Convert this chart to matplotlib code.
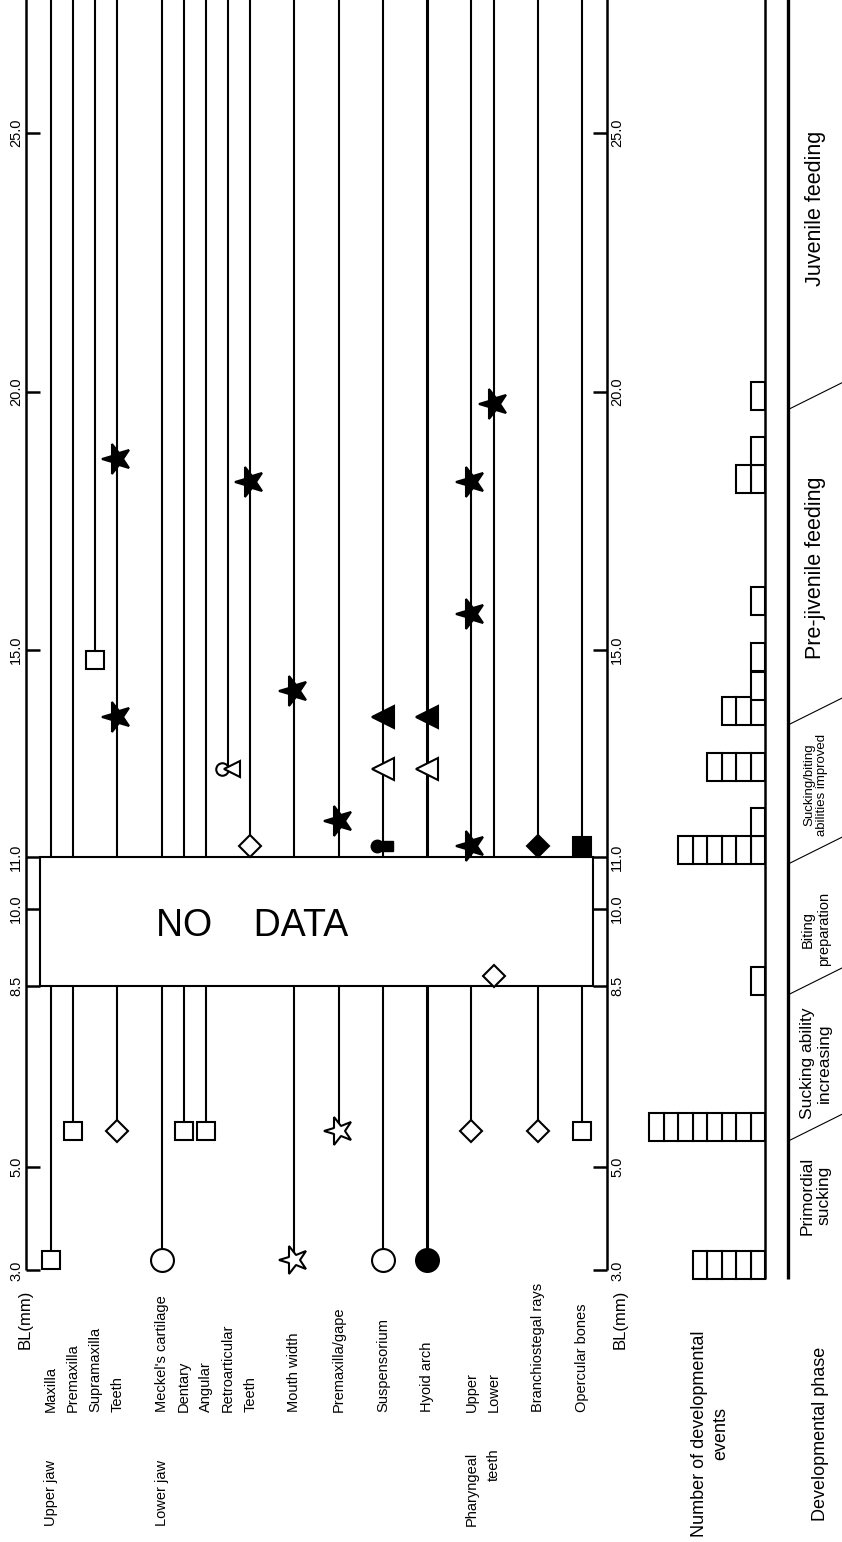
import matplotlib
matplotlib.use('Agg')
import matplotlib.pyplot as plt
from matplotlib.markers import MarkerStyle
from matplotlib.transforms import Affine2D, ScaledTranslation
from matplotlib.patches import Rectangle

plt.rcParams['font.family'] = ['Liberation Sans', 'DejaVu Sans']

# ---- data ----
bl_ticks = [3.0, 5.0, 8.5, 10.0, 11.0, 15.0, 20.0, 25.0]
tick_labels = ['3.0', '5.0', '8.5', '10.0', '11.0', '15.0', '20.0', '25.0']

items = ['Maxilla', 'Premaxilla', 'Supramaxilla', 'Teeth',
         "Meckel's cartilage", 'Dentary', 'Angular', 'Retroarticular', 'Teeth',
         'Mouth width', 'Premaxilla/gape', 'Suspensorium', 'Hyoid arch',
         'Upper', 'Lower', 'Branchiostegal rays', 'Opercular bones']
item_slot = [1, 2, 3, 4, 6, 7, 8, 9, 10, 12, 14, 16, 18, 20, 21, 23, 25]
first_bl = [3.2, 5.7, 14.8, 5.7, 3.2, 5.7, 5.7, 12.7, 11.2, 3.2, 5.7,
            3.2, 3.2, 5.7, 8.7, 5.7, 5.7]

groups = ['Upper jaw', 'Lower jaw', 'Pharyngeal']
group_slot = [1, 6, 20]

# developmental events: column, body length (mm), symbol
ev_slot = [1, 2, 3, 4, 4, 4, 6, 7, 8, 9, 10, 10, 12, 12, 14, 14,
           16, 16, 16, 16, 18, 18, 18, 20, 20, 20, 20, 21, 21, 23, 23, 25, 25]
ev_bl = [3.2, 5.7, 14.8, 5.7, 13.7, 18.7, 3.2, 5.7, 5.7, 12.7, 11.2, 18.25,
         3.2, 14.2, 5.7, 11.7, 3.2, 11.2, 12.7, 13.7, 3.2, 12.7, 13.7,
         5.7, 11.2, 15.7, 18.25, 8.7, 19.75, 5.7, 11.2, 5.7, 11.2]
ev_sym = ['sq_o', 'sq_o', 'sq_o', 'di_o', 'st_f', 'st_f', 'ci_o', 'sq_o', 'sq_o',
          'retro', 'di_o', 'st_f', 'st_o', 'st_f', 'st_o', 'st_f',
          'ci_o', 'dotsq', 'tr_o', 'tr_f', 'ci_f', 'tr_o', 'tr_f',
          'di_o', 'st_f', 'st_f', 'st_f', 'di_o', 'st_f', 'di_o', 'di_f', 'sq_o', 'sq_f']

# number of developmental events per body-length class
hist_bl = [3.1, 5.77, 8.6, 11.13, 11.67, 12.74, 13.82, 14.3, 14.86, 15.95, 18.3, 18.85, 19.92]
hist_n = [5, 8, 1, 6, 1, 4, 3, 1, 1, 1, 2, 1, 1]

phases = ['Primordial\nsucking', 'Sucking ability\nincreasing', 'Biting\npreparation',
          'Sucking/biting\nabilities improved', 'Pre-jivenile feeding', 'Juvenile feeding']
phase_mid = [4.45, 7.0, 9.6, 12.4, 16.6, 23.55]
phase_size = [12.5, 12.5, 10.5, 9.5, 15.5, 15.5]
phase_edges = [5.5, 8.33, 10.86, 13.55, 19.65]

# ---- figure ----
fig = plt.figure(figsize=(8.42, 15.42), dpi=100)
ylo, yhi = -2.253, 27.573
ax = fig.add_axes([0, 0, 1, 1])
ax.set_xlim(-1.306, 36.75)
ax.set_ylim(ylo, yhi)
ax.axis('off')

ax2 = fig.add_axes([0, 0, 1, 1])
ax2.set_xlim(52.76, -5.31)
ax2.set_ylim(ylo, yhi)
ax2.axis('off')
ax2.patch.set_alpha(0)

lw = 1.5
# axes on both sides
for x0, x1, tx in [(-0.13, 0.5, -0.58), (26.13, 25.5, 26.58)]:
    ax.plot([x0, x0], [bl_ticks[0], yhi + 1], color='black', lw=1.8, solid_capstyle='butt')
    ax.hlines(bl_ticks, x0, x1, color='black', lw=1.8)
    for v, lab in zip(bl_ticks, tick_labels):
        ax.text(tx, v, lab, rotation=90, ha='center', va='center', fontsize=10.5)
ax.text(-0.18, 2.62, 'BL(mm)', rotation=90, ha='center', va='top', fontsize=12)
ax.text(26.72, 2.62, 'BL(mm)', rotation=90, ha='center', va='top', fontsize=12)

# one line per structure
for name, s, b in zip(items, item_slot, first_bl):
    w = 2.2 if name == 'Hyoid arch' else lw
    ax.plot([s, s], [b, yhi + 1], color='black', lw=w, zorder=1, solid_capstyle='butt')
    ax.text(s, 0.26, name, rotation=90, ha='center', va='bottom', fontsize=10.5)
for g, s in zip(groups, group_slot):
    ax.text(s, -1.95, g, rotation=90, ha='center', va='bottom', fontsize=10.5)
ax.text(21, -0.44, 'teeth', rotation=90, ha='center', va='top', fontsize=10.5)

# no data box
ax.add_patch(Rectangle((0.5, 8.5), 25.0, 2.5, facecolor='white', edgecolor='black',
                       lw=1.5, zorder=2))
ax.text(10.1, 9.66, 'NO    DATA', ha='center', va='center', fontsize=27, zorder=4)

star = MarkerStyle('*', transform=Affine2D().rotate_deg(90))
styles = {
    'sq_o': dict(marker='s', ms=13.5, mfc='white'),
    'sq_f': dict(marker='s', ms=13.5, mfc='black'),
    'di_o': dict(marker='D', ms=11, mfc='white'),
    'di_f': dict(marker='D', ms=11, mfc='black'),
    'ci_o': dict(marker='o', ms=16.5, mfc='white'),
    'ci_f': dict(marker='o', ms=16.5, mfc='black'),
    'st_o': dict(marker=star, ms=21, mfc='white'),
    'st_f': dict(marker=star, ms=22, mfc='black'),
    'tr_o': dict(marker='<', ms=16, mfc='white'),
    'tr_f': dict(marker='<', ms=16, mfc='black'),
}


def shifted(dx):
    return ax.transData + ScaledTranslation(dx / 72, 0, fig.dpi_scale_trans)


for s, b, sym in zip(ev_slot, ev_bl, ev_sym):
    if sym == 'retro':
        ax.plot(s, b, marker='o', ms=9, mfc='white', mec='black', mew=1.5,
                transform=shifted(-4), zorder=3)
        ax.plot(s, b, marker='<', ms=11, mfc='white', mec='black', mew=1.5,
                transform=shifted(3), zorder=3)
    elif sym == 'dotsq':
        ax.plot(s, b, marker='o', ms=9, mfc='black', mec='black',
                transform=shifted(-4.5), zorder=3)
        ax.plot(s, b, marker='s', ms=7, mfc='black', mec='black',
                transform=shifted(3.5), zorder=3)
    else:
        ax.plot(s, b, mec='black', mew=1.5, zorder=3, **styles[sym])

# histogram of events (one box per event)
for lvl in range(max(hist_n)):
    sel = [c for c, n in zip(hist_bl, hist_n) if n > lvl]
    ax2.barh(sel, 1, left=lvl, height=0.54, color='white', edgecolor='black', lw=1.5)
ax2.plot([0, 0], [2.83, yhi + 1], color='black', lw=1.8, solid_capstyle='butt')
ax2.text(3.8, -0.16, 'Number of developmental\nevents', rotation=90, ha='center',
         va='center', multialignment='center', fontsize=13, linespacing=1.3)

# developmental phases
ax2.plot([-1.586, -1.586], [2.83, yhi + 1], color='black', lw=2.4, solid_capstyle='butt')
for e in phase_edges:
    ax2.plot([-1.586, -5.31], [e, e + 0.52], color='black', lw=0.8)
for p, m, fs in zip(phases, phase_mid, phase_size):
    ax2.text(-3.5, m, p, rotation=90, ha='center', va='center',
             multialignment='center', fontsize=fs, linespacing=1.15)
ax2.text(-3.8, -0.16, 'Developmental phase', rotation=90, ha='center', va='center',
         fontsize=13)

fig.savefig('out.png', dpi=100)
plt.close(fig)
